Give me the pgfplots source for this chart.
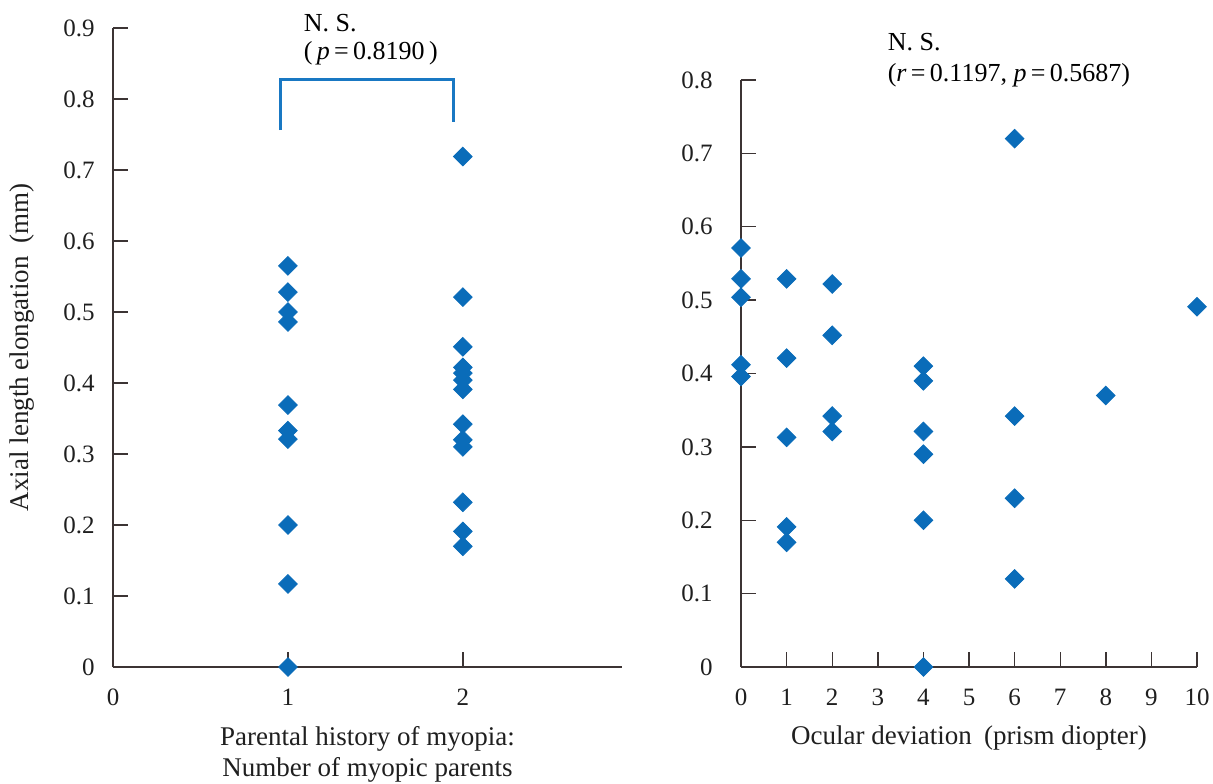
\documentclass[border=0pt]{standalone}
\usepackage{pgfplots}
\pgfplotsset{compat=1.18}
\usepackage{fontspec}
\setmainfont{Liberation Serif}
\definecolor{ptblue}{RGB}{10,108,185}
\definecolor{brblue}{RGB}{25,120,195}
\definecolor{axgray}{RGB}{60,52,52}
\begin{document}
\fontsize{12.5}{15.5}\selectfont
\begin{tikzpicture}
\useasboundingbox (-56.5pt,-58pt) rectangle (550pt,333.5pt);
\pgfplotsset{
  every axis/.append style={
    scale only axis,
    axis x line*=bottom, axis y line*=left,
    axis line style={axgray, line width=0.7pt, -},
    tick style={axgray, line width=0.7pt},
    tick align=inside,
    major tick length=7.5pt,
    /pgf/number format/assume math mode=true,
    /pgf/number format/fixed,
    /pgf/number format/precision=1,
    tick label style={font=\fontsize{12.5}{15}\selectfont, text=black!88, inner sep=0pt},
    xticklabel style={anchor=center, yshift=-15pt},
    label style={font=\fontsize{13.5}{15.5}\selectfont, text=black!88},
    clip=false,
  },
  dia/.style={only marks, mark=square*, mark size=3.3pt, color=ptblue,
    mark options={rotate=45, draw=ptblue, fill=ptblue}},
}
% ---------- left panel ----------
\begin{axis}[
  at={(0pt,0pt)}, anchor=south west,
  width=254.5pt, height=319.5pt,
  xmin=0, xmax=2.91, ymin=0, ymax=0.9,
  xtick={0,1,2}, xticklabels={0,1,2},
  ytick={0,0.1,0.2,0.3,0.4,0.5,0.6,0.7,0.8,0.9},
  yticklabel style={anchor=east, xshift=-9pt},
  xlabel={Parental history of myopia:\\Number of myopic parents},
  xlabel style={at={(axis description cs:0.5,0)}, anchor=center, yshift=-43.5pt, align=center},
  ylabel={Axial length elongation\hspace{0.45em}(mm)},
  ylabel style={at={(axis description cs:-0.179,0.5)}, anchor=center, rotate=0},
]
\addplot[dia] coordinates {
 (1,0.565) (1,0.528) (1,0.500) (1,0.486) (1,0.369) (1,0.333) (1,0.321)
 (1,0.200) (1,0.117) (1,0.000)
};
\addplot[dia] coordinates {
 (2,0.719) (2,0.521) (2,0.451) (2,0.422) (2,0.414) (2,0.404) (2,0.391)
 (2,0.342) (2,0.320) (2,0.310) (2,0.232) (2,0.191) (2,0.170)
};
\addplot[brblue, line width=1.5pt, no marks] coordinates {
 (0.958,0.756) (0.958,0.828) (1.945,0.828) (1.945,0.768)
};
\node[anchor=west, inner sep=0pt, font=\fontsize{13}{15}\selectfont] at (axis cs:1.089,0.907) {N. S.};
\node[anchor=west, inner sep=0pt, font=\fontsize{13}{15}\selectfont] at (axis cs:1.089,0.865) {(\,\textit{p}\,=\,0.8190\,)};
\end{axis}
% ---------- right panel ----------
\begin{axis}[
  at={(314pt,0pt)}, anchor=south west,
  width=228pt, height=293.5pt,
  xmin=0, xmax=10, ymin=0, ymax=0.8,
  xtick={0,1,2,3,4,5,6,7,8,9,10},
  xticklabels={0,1,2,3,4,5,6,7,8,9,10},
  ytick={0,0.1,0.2,0.3,0.4,0.5,0.6,0.7,0.8},
  yticklabel style={anchor=east, xshift=-14pt},
  xlabel={Ocular deviation\hspace{0.45em}(prism diopter)},
  xlabel style={at={(axis description cs:0.5,0)}, anchor=center, yshift=-35.5pt},
]
\addplot[dia] coordinates {
 (0,0.571) (0,0.529) (0,0.504) (0,0.412) (0,0.396)
 (1,0.529) (1,0.421) (1,0.313) (1,0.191) (1,0.170)
 (2,0.522) (2,0.452) (2,0.342) (2,0.321)
 (4,0.410) (4,0.390) (4,0.321) (4,0.290) (4,0.200) (4,0.000)
 (6,0.720) (6,0.342) (6,0.230) (6,0.120)
 (8,0.370) (10,0.491)
};
\node[anchor=west, inner sep=0pt, font=\fontsize{13}{15}\selectfont] at (axis cs:3.21,0.852) {N. S.};
\node[anchor=west, inner sep=0pt, font=\fontsize{13}{15}\selectfont] at (axis cs:3.21,0.807) {(\textit{r}\,=\,0.1197, \textit{p}\,=\,0.5687)};
\end{axis}
\end{tikzpicture}
\end{document}
